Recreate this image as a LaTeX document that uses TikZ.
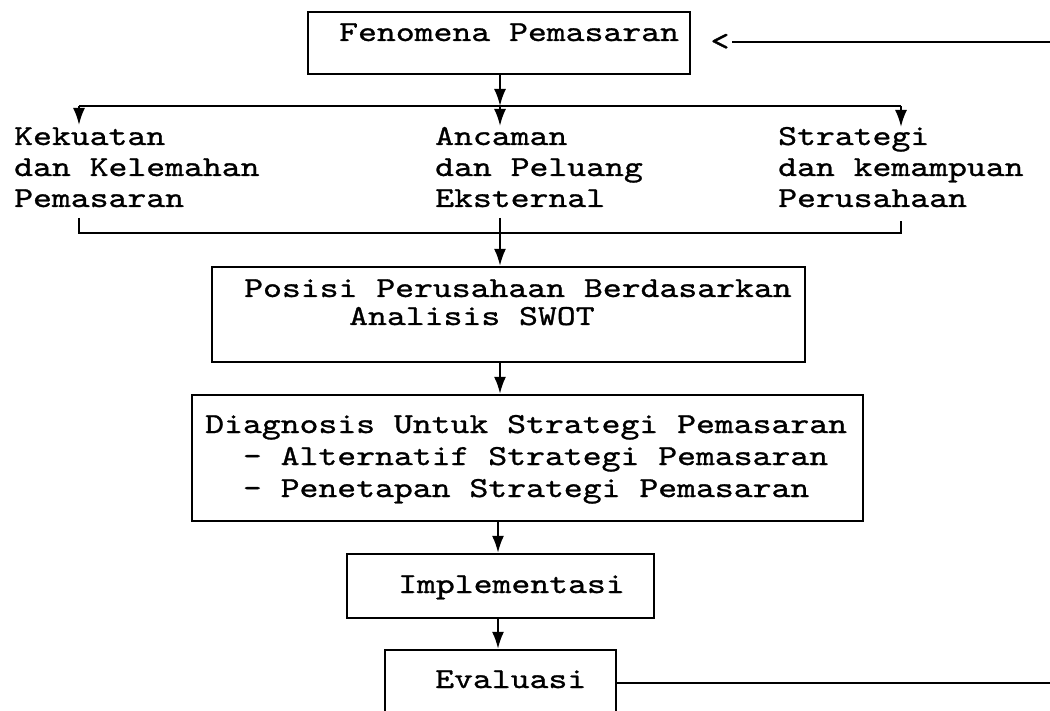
\documentclass[tikz,border=0pt]{standalone}
\usepackage{fontspec}
\newfontfamily\tw{lmmono10-regular.otf}[FakeStretch=1.24,FakeBold=1.0]
\usetikzlibrary{arrows.meta}
\tikzset{
  box/.style={draw, line width=2.3pt, inner sep=0pt},
  txt/.style={inner sep=0pt, anchor=base west, font=\tw\fontsize{29}{31}\selectfont},
  conn/.style={line width=2.1pt},
  arr/.style={conn, -{Latex[length=17pt,width=12pt]}},
}
\begin{document}
\begin{tikzpicture}[x=1pt,y=-1pt]
\useasboundingbox (0,0) rectangle (1050,711);
\path[fill=white] (0,0) rectangle (1050,711);

% boxes
\node[box, minimum width=382pt, minimum height=62pt] (fen) at (499,43) {};
\node[box, minimum width=593pt, minimum height=95pt] (pos) at (508.5,314.5) {};
\node[box, minimum width=671pt, minimum height=126pt] (diag) at (527.5,458) {};
\node[box, minimum width=307pt, minimum height=64pt] (impl) at (500.5,586) {};
\node[box, minimum width=231pt, minimum height=70pt] (eval) at (500.5,685) {};

% texts
\node[txt] (fenT) at (339,41) {Fenomena Pemasaran};
\node[txt] (kek) at (14,145) {\vtop{\baselineskip=31pt\hbox{Kekuatan}\hbox{dan Kelemahan}\hbox{Pemasaran}}};
\node[txt] (anc) at (435,145) {\vtop{\baselineskip=31pt\hbox{Ancaman}\hbox{dan Peluang}\hbox{Eksternal}}};
\node[txt] (str) at (778,145) {\vtop{\baselineskip=31pt\hbox{Strategi}\hbox{dan kemampuan}\hbox{Perusahaan}}};
\node[txt] (posT) at (244,297) {\vtop{\baselineskip=28pt\hbox{Posisi Perusahaan Berdasarkan}\hbox{\kern105pt Analisis SWOT}}};
\node[txt] (diagT) at (205,433) {\vtop{\baselineskip=32pt\hbox{Diagnosis Untuk Strategi Pemasaran}\hbox{\hphantom{xx}- Alternatif Strategi Pemasaran}\hbox{\hphantom{xx}- Penetapan Strategi Pemasaran}}};
\node[txt] (implT) at (398,593) {Implementasi};
\node[txt] (evalT) at (435,688) {Evaluasi};
\node[txt, anchor=center] (lt) at (720,42) {<};

% coordinates
\coordinate (mx) at (500,0);
\coordinate (mx2) at (498,0);
\coordinate (bl) at (79,106);
\coordinate (bm) at (500,106);
\coordinate (br) at (901,106);
\coordinate (tl) at (79,125);
\coordinate (tm) at (500,126);
\coordinate (tr) at (901,127);
\coordinate (ul) at (79,218);
\coordinate (um) at (500,218);
\coordinate (ur) at (901,221);
\coordinate (cl) at (79,233);
\coordinate (cm) at (500,233);
\coordinate (cr) at (901,233);
\coordinate (rx) at (1050,0);
\coordinate (ly) at (0,683);

% connectors
\draw[arr] (mx |- fen.south) -- (bm);
\draw[conn] (bl) -- (br);
\draw[arr] (bl) -- (tl);
\draw[arr] (bm) -- (tm);
\draw[arr] (br) -- (tr);
\draw[conn] (ul) -- (cl) -- (cr) -- (ur);
\draw[conn] (um) -- (cm);
\draw[arr] (cm) -- (mx |- pos.north);
\draw[arr] (mx |- pos.south) -- (mx |- diag.north);
\draw[arr] (mx2 |- diag.south) -- (mx2 |- impl.north);
\draw[arr] (mx2 |- impl.south) -- (mx2 |- eval.north);
\draw[conn] (eval.east |- ly) -- (rx |- ly);
\draw[conn] (rx |- lt) -- ([xshift=2pt]lt.east);
\end{tikzpicture}
\end{document}
